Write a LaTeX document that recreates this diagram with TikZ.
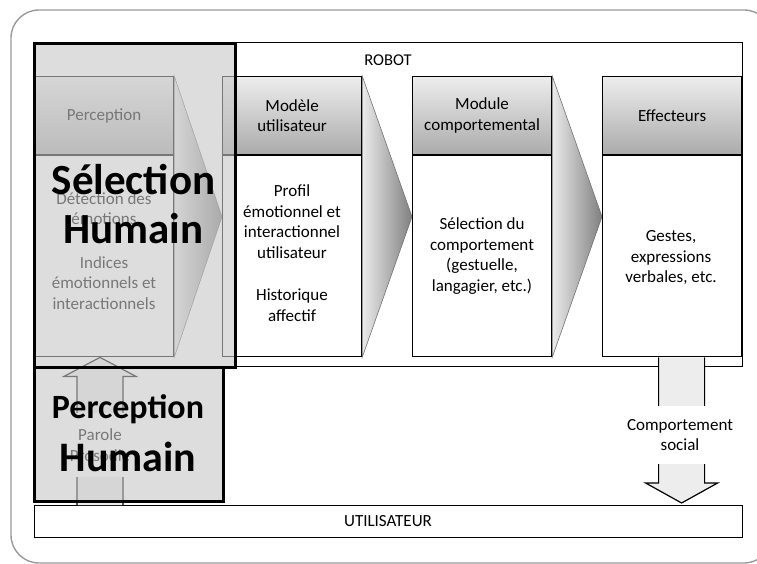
\documentclass[tikz,border=0pt]{standalone}
\usepackage{fontspec}
\setmainfont{Carlito}
\usetikzlibrary{calc,backgrounds}
\begin{document}
\begin{tikzpicture}[x=1pt,y=-1pt,
  font=\fontsize{17}{20.5}\selectfont,
  box/.style={draw=black, line width=1.2pt, inner sep=0pt, minimum width=139pt, anchor=north west},
  head/.style={box, minimum height=78pt, top color=black!7, bottom color=black!33, align=center},
  body/.style={box, minimum height=201pt, fill=white},
  txt/.style={align=center, inner sep=0pt},
  chev/.style={draw=black!55, line width=0.6pt, left color=black!8, right color=black!50},
  blockarrow/.style={draw=black, line width=1.2pt, fill=black!7},
  overlaybox/.style={draw=black, line width=2.6pt, fill=black!22, fill opacity=0.6, draw opacity=1},
  bigtxt/.style={inner sep=0pt, anchor=base, font=\bfseries}]
\useasboundingbox (0,0) rectangle (757,564);
% outer frame
\draw[black!40, line width=1.4pt, rounded corners=28pt] (11,10) rectangle (772,563);
% robot box
\node[draw=black, line width=1.2pt, inner sep=0pt, anchor=north west,
      minimum width=708pt, minimum height=324pt] (robot) at (34,42) {};
\node[txt, font=\fontsize{16.5}{20}\selectfont] (robotlbl) at (388,60) {ROBOT};
% columns
\node[head] (h1) at (34,76) {Perception};
\node[head] (h2) at (222,76) {Modèle\\utilisateur};
\node[head] (h3) at (412,76) {Module\\comportemental};
\node[head] (h4) at (602,76) {Effecteurs};
\node[body] (b1) at (h1.south west) {};
\node[body] (b2) at (h2.south west) {};
\node[body] (b3) at (h3.south west) {};
\node[body] (b4) at (h4.south west) {};
% chevrons
\coordinate (m1) at ($(h1.north east)!0.5!(b1.south east)$);
\coordinate (m2) at ($(h2.north east)!0.5!(b2.south east)$);
\coordinate (m3) at ($(h3.north east)!0.5!(b3.south east)$);
\begin{pgfonlayer}{background}
\path[chev] (h1.north east) -- (h2.west |- m1) -- (b1.south east) -- cycle;
\path[chev] (h2.north east) -- (h3.west |- m2) -- (b2.south east) -- cycle;
\path[chev] (h3.north east) -- (h4.west |- m3) -- (b3.south east) -- cycle;
\end{pgfonlayer}
% body texts
\node[txt] (t1a) at (104,208.5) {Détection des\\émotions};
\node[txt] (t1b) at (104,283) {Indices\\émotionnels et\\interactionnels};
\node[txt] (t2a) at (292,221.5) {Profil\\émotionnel et\\interactionnel\\utilisateur};
\node[txt] (t2b) at (292,305) {Historique\\affectif};
\node[txt] (t3) at (482,256) {Sélection du\\comportement\\(gestuelle,\\langagier, etc.)};
\node[txt] (t4) at (671,258) {Gestes,\\expressions\\verbales, etc.};
% user box
\node[draw=black, line width=1.2pt, inner sep=0pt, anchor=north west,
      minimum width=708pt, minimum height=32pt] (util) at (34,505) {};
\node[txt] (utillbl) at (388,521) {UTILISATEUR};
% down arrow (Comportement social)
\coordinate (dt) at ([xshift=9.5pt]b4.south);
\coordinate (dp) at (dt |- util.north);
\path[blockarrow] ([xshift=-23pt]dt) -- ([xshift=-23pt,yshift=22pt]dp) -- ([xshift=-36pt,yshift=22pt]dp)
  -- ([yshift=2pt]dp) -- ([xshift=36pt,yshift=22pt]dp) -- ([xshift=23pt,yshift=22pt]dp) -- ([xshift=23pt]dt);
\node[txt, fill=white, minimum height=58pt, inner xsep=3pt] (cs) at (680,435) {Comportement\\social};
% up arrow (Parole Prosodie)
\coordinate (ub) at ([xshift=66pt]util.north west);
\coordinate (ut) at (ub |- b1.south);
\path[blockarrow] ([xshift=-23pt]ub) -- ([xshift=-23pt,yshift=-19pt]ut) -- ([xshift=-36pt,yshift=-19pt]ut)
  -- (ut) -- ([xshift=36pt,yshift=-19pt]ut) -- ([xshift=23pt,yshift=-19pt]ut) -- ([xshift=23pt]ub);
\node[txt, fill=white, minimum height=64pt, inner xsep=3pt] (pp) at (100,445) {Parole\\Prosodie};
% overlays
\node[overlaybox, inner sep=0pt, anchor=north west, minimum width=201pt, minimum height=324pt] (selbox) at (33,42) {};
\node[overlaybox, inner sep=0pt, anchor=north west, minimum width=189pt, minimum height=134pt] (perbox) at (33,366) {};
\node[bigtxt, font=\fontsize{43}{48}\bfseries] (s1) at (133.5,195) {Sélection};
\node[bigtxt, font=\fontsize{43}{48}\bfseries] (s2) at (133.5,243) {Humain};
\node[bigtxt, font=\fontsize{34}{40}\bfseries] (p1) at (128,418) {Perception};
\node[bigtxt, font=\fontsize{42}{48}\bfseries] (p2) at (128,471) {Humain};
\end{tikzpicture}
\end{document}
